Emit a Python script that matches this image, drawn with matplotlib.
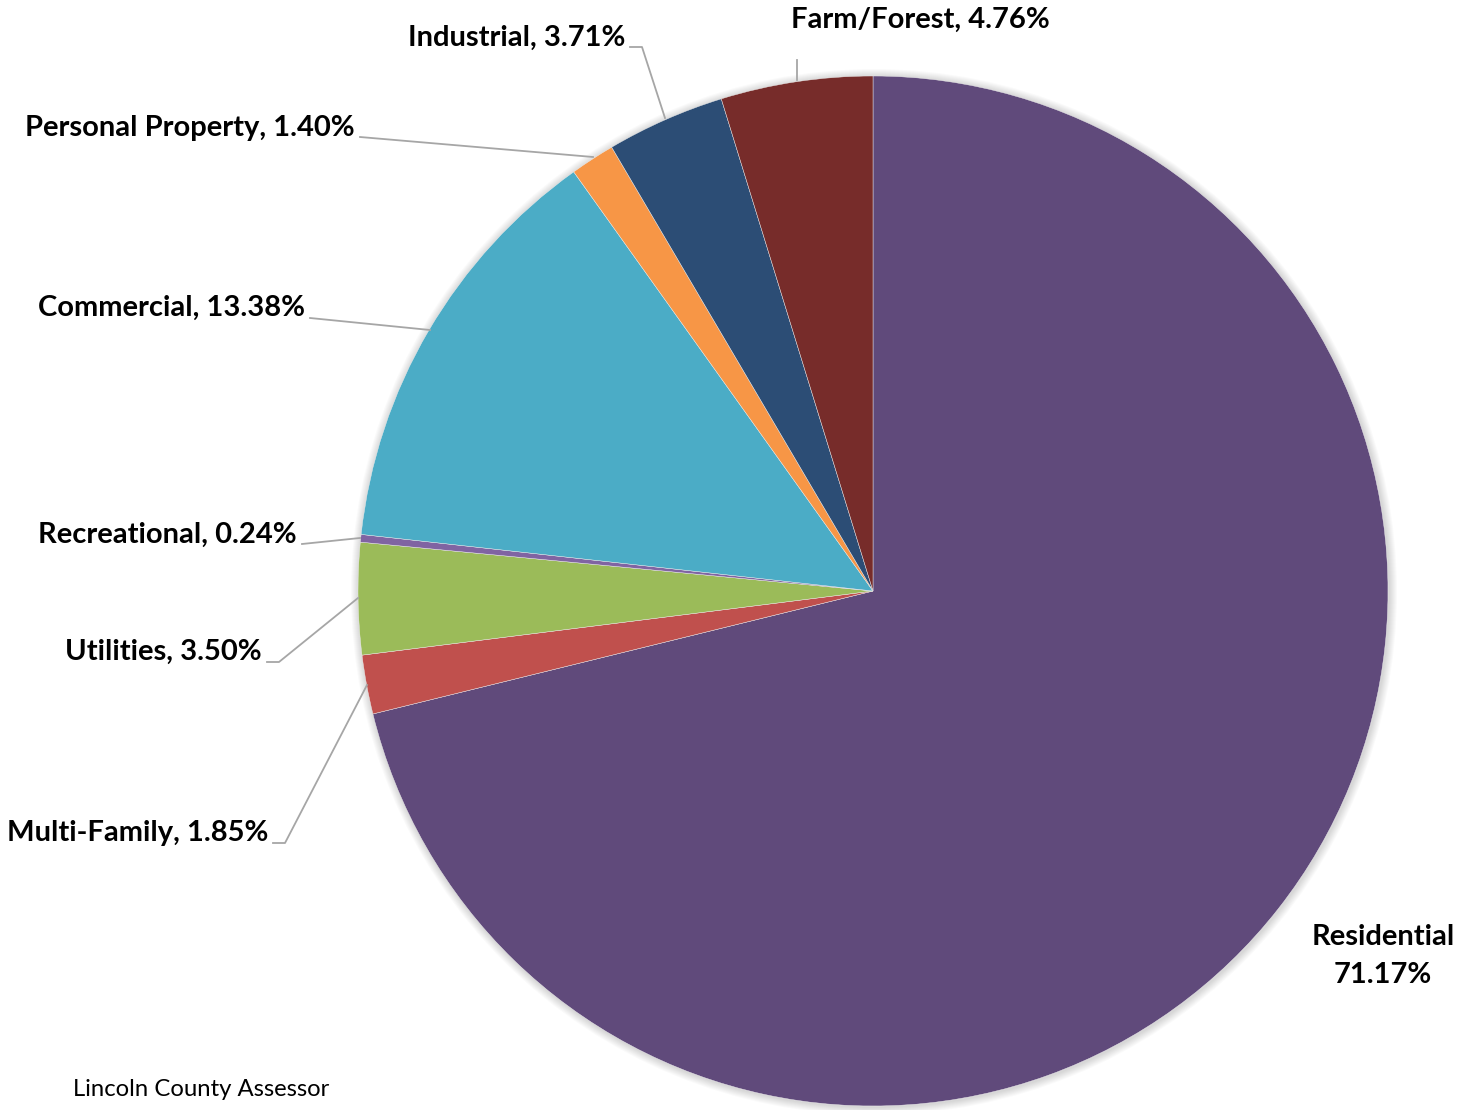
import matplotlib
matplotlib.use("Agg")
from matplotlib import pyplot as plt
from matplotlib.patches import Circle

# pie data, clockwise from 12 o'clock
categories = ["Residential", "Multi-Family", "Utilities", "Recreational",
              "Commercial", "Personal Property", "Industrial", "Farm/Forest"]
shares = [71.17, 1.85, 3.50, 0.24, 13.38, 1.40, 3.71, 4.76]
colors = ["#604A7B", "#C0504D", "#9BBB59", "#8064A2",
          "#4BACC6", "#F79646", "#2C4D75", "#772C2A"]

W, H = 1459, 1110
CX, CY, R = 873, 591, 515

def Y(py):
    # picture rows run downward, axes upward
    return H - py

plt.rcParams['font.family'] = ['Lato', 'DejaVu Sans']

fig = plt.figure(figsize=(W / 100, H / 100), dpi=100)
ax = fig.add_axes([0, 0, 1, 1])
ax.set_xlim(0, W)
ax.set_ylim(0, H)
ax.set_aspect('equal')
ax.axis('off')

# soft shadow round the pie
for i in range(8, 0, -1):
    ax.add_patch(Circle((CX + 1, Y(CY) - 1), R + i, color='black',
                        alpha=0.018, lw=0, zorder=0))

ax.pie(shares, colors=colors, startangle=90, counterclock=False,
       center=(CX, Y(CY)), radius=R, frame=True,
       wedgeprops=dict(linewidth=0.3, edgecolor='#f0f0f0'))
ax.set_xlim(0, W)
ax.set_ylim(0, H)
ax.axis('off')

fs = 21
line_kw = dict(color='#A6A6A6', lw=1.3, zorder=3)

# (label, text x, text y, align, leader points)
labels = [
    ("Farm/Forest", 920, 20, 'center', [(797, 60), (797, 80)]),
    ("Industrial", 625, 38, 'right', [(630, 47), (642, 47), (665, 118)]),
    ("Personal Property", 355, 128, 'right', [(360, 137), (593, 157)]),
    ("Commercial", 305, 308, 'right', [(310, 318), (430, 330)]),
    ("Recreational", 297, 535, 'right', [(302, 544), (360, 538)]),
    ("Utilities", 262, 652, 'right', [(267, 662), (279, 662), (358, 598)]),
    ("Multi-Family", 268, 833, 'right', [(273, 843), (285, 843), (367, 685)]),
]

for name, tx, ty, ha, pts in labels:
    val = shares[categories.index(name)]
    ax.text(tx, Y(ty), f"{name}, {val:.2f}%", ha=ha, va='center',
            fontsize=fs, fontweight='bold', color='black')
    ax.plot([p[0] for p in pts], [Y(p[1]) for p in pts], **line_kw)

ax.text(1383, Y(956), f"{categories[0]}\n{shares[0]:.2f}%", ha='center',
        va='center', fontsize=fs, fontweight='bold', linespacing=1.6)

ax.text(73, Y(1090), "Lincoln County Assessor", ha='left', va='center',
        fontsize=17.2, color='black')

fig.savefig("out.png", dpi=100)
